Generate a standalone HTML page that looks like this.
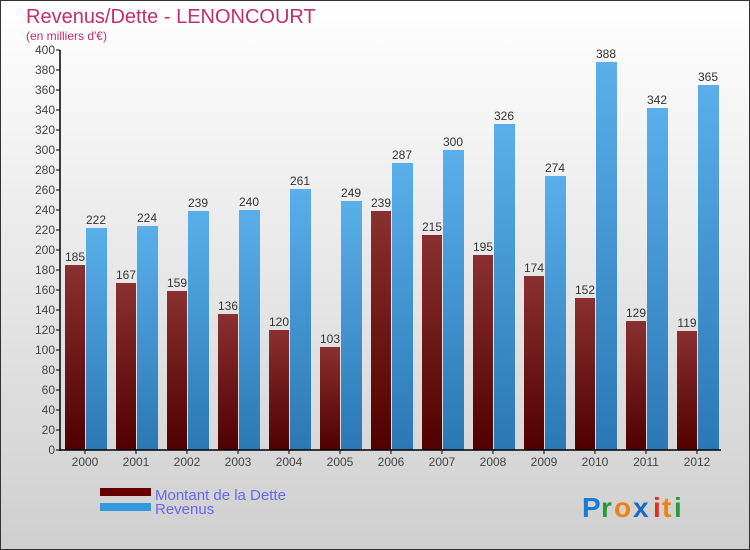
<!DOCTYPE html>
<html><head><meta charset="utf-8"><style>
body{margin:0}
svg{display:block;font-family:"Liberation Sans",sans-serif}
</style></head><body>
<svg id="c" width="750" height="550" xmlns="http://www.w3.org/2000/svg">
<defs>
<linearGradient id="bg" x1="0" y1="0" x2="0" y2="1"><stop offset="0" stop-color="#ffffff"/><stop offset="1" stop-color="#cfcfcf"/></linearGradient>
<linearGradient id="gd" x1="0" y1="0" x2="0" y2="1"><stop offset="0" stop-color="#8a3030"/><stop offset="1" stop-color="#500000"/></linearGradient>
<linearGradient id="gr" x1="0" y1="0" x2="0" y2="1"><stop offset="0" stop-color="#5aafea"/><stop offset="1" stop-color="#2a78b4"/></linearGradient>
</defs>
<rect x="0.5" y="0.5" width="749" height="549" fill="url(#bg)" stroke="#333"/>
<text x="26" y="23" font-size="20" fill="#c0306a">Revenus/Dette - LENONCOURT</text>
<text x="26" y="40" font-size="12" fill="#c0306a">(en milliers d'€)</text>
<g id="plot"></g>
<rect x="100" y="488" width="51" height="8" fill="#660000"/>
<text x="155" y="500" font-size="15" fill="#6666ee">Montant de la Dette</text>
<rect x="100" y="503" width="51" height="8" fill="#3399dd"/>
<text x="155" y="514" font-size="15" fill="#6666ee">Revenus</text>
<g font-size="28" font-weight="bold">
<text x="582" y="517" fill="#1a7ad4">P</text><text x="601" y="517" fill="#2a9a3a">r</text><text x="614" y="517" fill="#f08010">o</text><text x="633" y="517" fill="#1a6ac4">x</text><text x="653" y="517" fill="#e03020">i</text><text x="662" y="517" fill="#f08010">t</text><text x="674" y="517" fill="#2a9a3a">i</text>
</g>
</svg>
<script>
const years=["2000","2001","2002","2003","2004","2005","2006","2007","2008","2009","2010","2011","2012"];
const dette=[185,167,159,136,120,103,239,215,195,174,152,129,119];
const revenus=[222,224,239,240,261,249,287,300,326,274,388,342,365];
const yTicks=[0,20,40,60,80,100,120,140,160,180,200,220,240,260,280,300,320,340,360,380,400];
const NS="http://www.w3.org/2000/svg";
const g=document.getElementById('plot');
const y=v=>450-v*1.0;
const xc=i=>86+i*51;
function mk(t,a){const e=document.createElementNS(NS,t);for(const k in a)e.setAttribute(k,a[k]);g.appendChild(e);return e;}
yTicks.forEach(v=>{
 const l=mk('line',{x1:56,x2:60,y1:y(v),y2:y(v),stroke:'#000'});
 
 
 const t=mk('text',{x:55,y:y(v)+4,'font-size':12,fill:'#444','text-anchor':'end'});t.textContent=v;
 
 
});
years.forEach((yr,i)=>{
 const c=xc(i);
 const b1=mk('rect',{x:c-21,y:y(dette[i]),width:20,height:450-y(dette[i]),fill:'url(#gd)'});
 
 
 const b2=mk('rect',{x:c,y:y(revenus[i]),width:21,height:450-y(revenus[i]),fill:'url(#gr)'});
 
 
 const t1=mk('text',{x:c-11,y:y(dette[i])-4,'font-size':12,fill:'#333','text-anchor':'middle'});t1.textContent=dette[i];
 
 
 const t2=mk('text',{x:c+10,y:y(revenus[i])-4,'font-size':12,fill:'#333','text-anchor':'middle'});t2.textContent=revenus[i];
 
 
 const tk=mk('line',{x1:c-1,x2:c-1,y1:450,y2:454,stroke:'#000'});
 
 
 const xl=mk('text',{x:c-1,y:466,'font-size':12,fill:'#444','text-anchor':'middle'});xl.textContent=yr;
 
 
});
const ax=mk('line',{x1:60,x2:60,y1:50,y2:451,stroke:'#000','stroke-width':1.5});


const bx=mk('line',{x1:59,x2:721,y1:450,y2:450,stroke:'#000','stroke-width':1.5});


</script>
</body></html>
